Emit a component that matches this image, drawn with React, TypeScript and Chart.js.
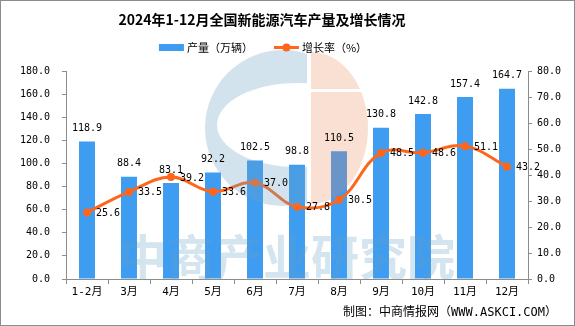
import React, { useEffect, useRef } from "react";
import { Chart, registerables } from "chart.js";

Chart.register(...registerables);

const categories = ["1-2月", "3月", "4月", "5月", "6月", "7月", "8月", "9月", "10月", "11月", "12月"];
const production = [118.9, 88.4, 83.1, 92.2, 102.5, 98.8, 110.5, 130.8, 142.8, 157.4, 164.7];
const growth = [25.6, 33.5, 39.2, 33.6, 37.0, 27.8, 30.5, 48.5, 48.6, 51.1, 43.2];
const leftAxisMax = 180;
const leftAxisStep = 20;
const rightAxisMax = 80;
const rightAxisStep = 10;
const titleText = "2024年1-12月全国新能源汽车产量及增长情况";
const seriesNames = ["产量（万辆）", "增长率（%）"];
const sourceText = "制图：中商情报网（WWW.ASKCI.COM）";
const watermarkText = "中商产业研究院";

const BAR_COLOR = "#3E9CF1";
const LINE_COLOR = "#FF661A";
const AXIS_COLOR = "#8C8C8C";
const NUM_FONT = "'DejaVu Sans Mono', 'Noto Sans CJK SC', sans-serif";
const CJK_FONT = "'Noto Sans CJK SC', sans-serif";

const decorPlugin = {
  id: "decor",
  afterDatasetsDraw(chart: any) {
    const ctx = chart.ctx;
    // watermark logo
    ctx.save();
    ctx.beginPath();
    ctx.rect(0, 0, 307, 326);
    ctx.clip();
    ctx.beginPath();
    ctx.arc(283, 128, 78, 0, Math.PI * 2);
    ctx.ellipse(297, 125, 80, 42, 0, 0, Math.PI * 2);
    ctx.fillStyle = "rgba(105,162,198,0.3)";
    ctx.fill("evenodd");
    ctx.restore();

    ctx.save();
    ctx.beginPath();
    ctx.rect(311, 0, 100, 89);
    ctx.rect(311, 92, 100, 200);
    ctx.clip();
    ctx.beginPath();
    ctx.ellipse(311, 128, 57, 76, 0, -Math.PI / 2, Math.PI / 2);
    ctx.closePath();
    ctx.fillStyle = "rgba(235,127,79,0.25)";
    ctx.fill();
    ctx.restore();

    ctx.save();
    ctx.font = `bold 48px ${CJK_FONT}`;
    ctx.textAlign = "center";
    ctx.textBaseline = "middle";
    ctx.fillStyle = "rgba(105,162,198,0.28)";
    ctx.fillText(watermarkText, 287, 257);
    ctx.restore();

    // data labels
    ctx.save();
    ctx.font = `10px ${NUM_FONT}`;
    ctx.fillStyle = "#000";
    const barMeta = chart.getDatasetMeta(1);
    barMeta.data.forEach((el: any, i: number) => {
      ctx.textAlign = "center";
      ctx.textBaseline = "middle";
      ctx.fillText(production[i].toFixed(1), el.x, el.y - 13);
    });
    const lineMeta = chart.getDatasetMeta(0);
    lineMeta.data.forEach((el: any, i: number) => {
      ctx.textAlign = "left";
      ctx.textBaseline = "middle";
      ctx.fillText(growth[i].toFixed(1), el.x + 9, el.y + 1);
    });
    ctx.restore();
  },
  afterDraw(chart: any) {
    const ctx = chart.ctx;
    const W = chart.width;
    const H = chart.height;
    ctx.save();
    // title
    ctx.font = `bold 14px ${CJK_FONT}`;
    ctx.fillStyle = "#000";
    ctx.textAlign = "center";
    ctx.textBaseline = "middle";
    ctx.fillText(titleText, 262, 20);

    // legend
    ctx.font = `11px ${CJK_FONT}`;
    const w1 = ctx.measureText(seriesNames[0]).width;
    const w2 = ctx.measureText(seriesNames[1]).width;
    const total = 25 + 3 + w1 + 21 + 25 + 3 + w2;
    let x = 263 - total / 2;
    const ly = 47.5;
    ctx.fillStyle = BAR_COLOR;
    ctx.fillRect(x, ly - 3.5, 25, 7);
    ctx.fillStyle = "#000";
    ctx.textAlign = "left";
    ctx.fillText(seriesNames[0], x + 28, ly);
    x += 28 + w1 + 21;
    ctx.strokeStyle = LINE_COLOR;
    ctx.lineWidth = 3;
    ctx.beginPath();
    ctx.moveTo(x, ly);
    ctx.lineTo(x + 25, ly);
    ctx.stroke();
    ctx.fillStyle = LINE_COLOR;
    ctx.beginPath();
    ctx.arc(x + 12.5, ly, 4, 0, Math.PI * 2);
    ctx.fill();
    ctx.fillStyle = "#000";
    ctx.fillText(seriesNames[1], x + 28, ly);

    // source
    ctx.font = `12px ${NUM_FONT}`;
    ctx.textAlign = "right";
    ctx.fillText(sourceText, 557, 313);

    // border
    ctx.strokeStyle = "#8C8C8C";
    ctx.lineWidth = 1;
    ctx.strokeRect(0.5, 0.5, W - 1, H - 1);
    ctx.restore();
  },
};

export default function App() {
  const ref = useRef<HTMLCanvasElement | null>(null);
  useEffect(() => {
    if (!ref.current) return;
    const chart = new Chart(ref.current, {
      type: "bar",
      data: {
        labels: categories,
        datasets: [
          {
            type: "line",
            label: seriesNames[1],
            data: growth,
            yAxisID: "y1",
            borderColor: LINE_COLOR,
            backgroundColor: LINE_COLOR,
            borderWidth: 3,
            pointRadius: 4,
            pointBackgroundColor: LINE_COLOR,
            pointBorderWidth: 0,
            tension: 0.4,
            order: 0,
          } as any,
          {
            type: "bar",
            label: seriesNames[0],
            data: production,
            yAxisID: "y",
            backgroundColor: BAR_COLOR,
            barPercentage: 0.38,
            categoryPercentage: 1,
            order: 1,
          },
        ],
      },
      options: {
        responsive: false,
        animation: false,
        layout: { padding: { top: 71, left: 0, right: 0, bottom: 0 } },
        plugins: {
          legend: { display: false },
          title: { display: false },
          tooltip: { enabled: false },
        },
        scales: {
          x: {
            offset: true,
            grid: { display: true, drawOnChartArea: false, offset: true, tickLength: 5, color: AXIS_COLOR },
            border: { display: true, color: AXIS_COLOR },
            ticks: { font: { family: NUM_FONT, size: 11 }, color: "#000", padding: 2, maxRotation: 0 },
            afterFit: (s: any) => { s.height = 47; },
          },
          y: {
            position: "left",
            min: 0,
            max: leftAxisMax,
            grid: { display: true, drawOnChartArea: false, tickLength: 4, color: AXIS_COLOR },
            border: { display: true, color: AXIS_COLOR },
            ticks: {
              stepSize: leftAxisStep,
              font: { family: NUM_FONT, size: 10 },
              color: "#000",
              padding: 12,
              callback: (v: any) => Number(v).toFixed(1),
            },
            afterFit: (s: any) => { s.width = 66; },
          },
          y1: {
            position: "right",
            min: 0,
            max: rightAxisMax,
            grid: { display: true, drawOnChartArea: false, tickLength: 4, color: AXIS_COLOR },
            border: { display: true, color: AXIS_COLOR },
            ticks: {
              stepSize: rightAxisStep,
              font: { family: NUM_FONT, size: 10 },
              color: "#000",
              padding: 5,
              callback: (v: any) => Number(v).toFixed(1),
            },
            afterFit: (s: any) => { s.width = 47; },
          },
        },
      },
      plugins: [decorPlugin],
    });
    return () => chart.destroy();
  }, []);
  return (
    <div style={{ position: "fixed", left: 0, top: 0, width: 575, height: 326, background: "#fff" }}>
      <canvas ref={ref} width={575} height={326} style={{ display: "block" }} />
    </div>
  );
}
